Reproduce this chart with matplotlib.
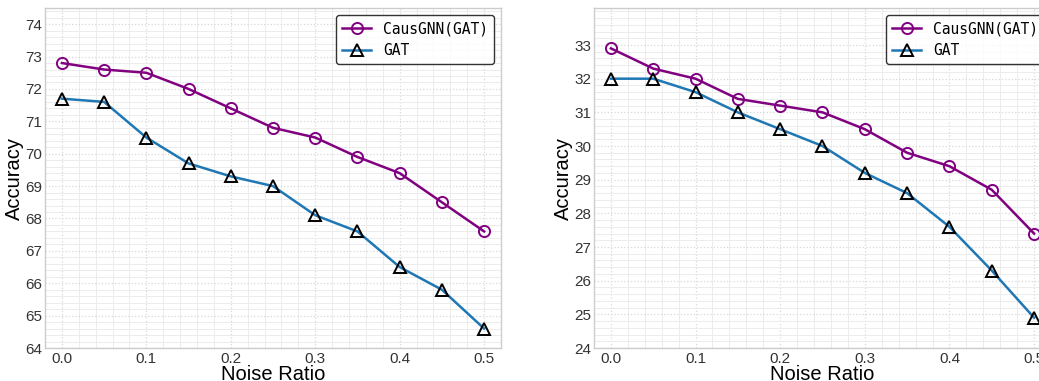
import matplotlib
matplotlib.use("Agg")
import matplotlib.pyplot as plt
from matplotlib.ticker import MultipleLocator

noise = [0.0, 0.05, 0.1, 0.15, 0.2, 0.25, 0.3, 0.35, 0.4, 0.45, 0.5]

left_causgnn = [72.8, 72.6, 72.5, 72.0, 71.4, 70.8, 70.5, 69.9, 69.4, 68.5, 67.6]
left_gat = [71.7, 71.6, 70.5, 69.7, 69.3, 69.0, 68.1, 67.6, 66.5, 65.8, 64.6]

right_causgnn = [32.9, 32.3, 32.0, 31.4, 31.2, 31.0, 30.5, 29.8, 29.4, 28.7, 27.4]
right_gat = [32.0, 32.0, 31.6, 31.0, 30.5, 30.0, 29.2, 28.6, 27.6, 26.3, 24.9]

left_yticks = list(range(64, 75))
right_yticks = list(range(24, 34))

plt.rcParams["font.family"] = ["Liberation Sans", "DejaVu Sans"]

fig = plt.figure(figsize=(10.39, 3.81), dpi=100)
W, H = 1039, 381
ax1 = fig.add_axes([45 / W, 1 - 348 / H, 456 / W, 340 / H])
ax2 = fig.add_axes([594 / W, 1 - 348 / H, 457 / W, 340 / H])


def draw(ax, cg, gat, ylim, yticks):
    ax.plot(noise, cg, "-o", color="purple", lw=1.8, ms=8, mfc="none",
            mec="purple", mew=1.4, label="CausGNN(GAT)", zorder=3)
    ax.plot(noise, gat, "-^", color="#1f77b4", lw=1.8, ms=8, mfc="none",
            mec="black", mew=1.4, label="GAT", zorder=3)
    ax.set_xlim(-0.02, 0.52)
    ax.set_ylim(*ylim)
    ax.set_yticks(yticks)
    ax.xaxis.set_major_locator(MultipleLocator(0.1))
    ax.xaxis.set_minor_locator(MultipleLocator(0.02))
    ax.yaxis.set_minor_locator(MultipleLocator(0.2))
    ax.grid(which="major", color="#d8d8d8", ls=":", lw=0.9)
    ax.grid(which="minor", color="#ececec", ls="-", lw=0.7)
    ax.tick_params(which="both", length=0, labelsize=11, labelcolor="#333333", pad=3)
    ax.tick_params(axis="y", pad=2)
    for s in ax.spines.values():
        s.set_color("#cccccc")
        s.set_linewidth(1.0)
    ax.set_xlabel("Noise Ratio", fontsize=14.5, labelpad=-1)
    ax.set_ylabel("Accuracy", fontsize=14.5, labelpad=1)
    leg = ax.legend(loc="upper right", frameon=True, fancybox=True,
                    prop={"family": "DejaVu Sans Mono", "size": 10.5},
                    borderpad=0.4, handlelength=2.0)
    leg.get_frame().set_edgecolor("black")
    leg.get_frame().set_linewidth(1.0)


draw(ax1, left_causgnn, left_gat, (64, 74.5), left_yticks)
draw(ax2, right_causgnn, right_gat, (24, 34.1), right_yticks)

plt.savefig("out.png", dpi=100)
